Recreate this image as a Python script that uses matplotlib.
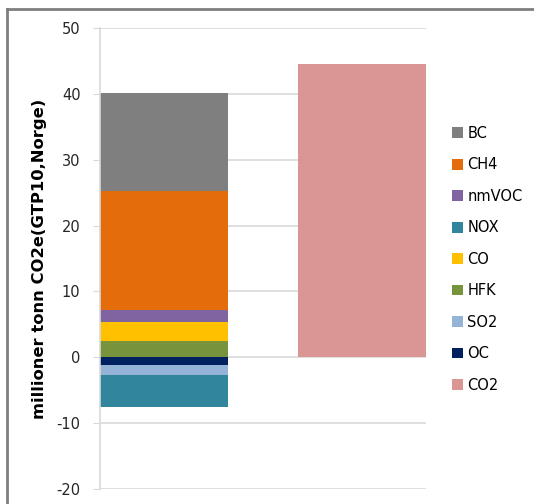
import matplotlib

matplotlib.use("Agg")
import matplotlib.pyplot as plt
from matplotlib.lines import Line2D
from matplotlib.patches import Patch

plt.rcParams["font.family"] = ["DejaVu Sans"]
plt.rcParams["axes.unicode_minus"] = False

# stacked components of the first bar (positive part bottom-up, negative part top-down)
pos_names = ["HFK", "CO", "nmVOC", "CH4", "BC"]
pos_values = [2.4, 2.9, 1.9, 18.05, 14.95]
neg_names = ["OC", "SO2", "NOX"]
neg_values = [-1.2, -1.5, -4.9]
co2_value = 44.6

legend_order = ["BC", "CH4", "nmVOC", "NOX", "CO", "HFK", "SO2", "OC", "CO2"]
colors = {
    "BC": "#7f7f7f",
    "CH4": "#e46c0a",
    "nmVOC": "#8064a2",
    "NOX": "#31859c",
    "CO": "#ffc000",
    "HFK": "#77933c",
    "SO2": "#95b3d7",
    "OC": "#002060",
    "CO2": "#d99694",
}

fig = plt.figure(figsize=(5.34, 5.04), dpi=100)
ax = fig.add_axes([100 / 534, 1 - 489 / 504, 326 / 534, 461 / 504])

width = 0.648
bottom = 0.0
for name, val in zip(pos_names, pos_values):
    ax.bar(0, val, width, bottom=bottom, color=colors[name], zorder=2)
    bottom += val
bottom = 0.0
for name, val in zip(neg_names, neg_values):
    ax.bar(0, val, width, bottom=bottom, color=colors[name], zorder=2)
    bottom += val
ax.bar(1, co2_value, width, color=colors["CO2"], zorder=2)

ax.set_xlim(-width / 2, 1 + width / 2)
ax.set_ylim(-20, 50)
ax.set_yticks(range(-20, 51, 10))
ax.set_xticks([])
ax.yaxis.grid(True, color="#d9d9d9", linewidth=1.2, zorder=0)
for side in ["top", "right", "bottom"]:
    ax.spines[side].set_visible(False)
ax.spines["left"].set_color("#d9d9d9")
ax.spines["left"].set_linewidth(1.2)
ax.tick_params(axis="y", length=5, color="#d9d9d9", labelsize=10.5,
               labelcolor="#262626", pad=9)

ax.set_ylabel("millioner tonn CO2e(GTP10,Norge)", fontsize=11.8, fontweight="bold")
ax.yaxis.set_label_coords(-0.163, 0.5)

handles = [Patch(facecolor=colors[n], edgecolor="none") for n in legend_order]
fig.legend(handles, legend_order, loc="upper left",
           bbox_to_anchor=(446 / 534, 1 - 120 / 504), frameon=False,
           fontsize=10.5, handlelength=0.75, handleheight=0.75, handletextpad=0.3,
           labelspacing=1.13, borderaxespad=0)

# outer chart frame
fig.add_artist(Line2D([7 / 534, 7 / 534], [0, 1 - 9 / 504], color="#7f7f7f",
                      linewidth=2, transform=fig.transFigure))
fig.add_artist(Line2D([7 / 534, 1], [1 - 9 / 504, 1 - 9 / 504], color="#7f7f7f",
                      linewidth=2, transform=fig.transFigure))

fig.savefig("out.png", dpi=100)
plt.close(fig)
